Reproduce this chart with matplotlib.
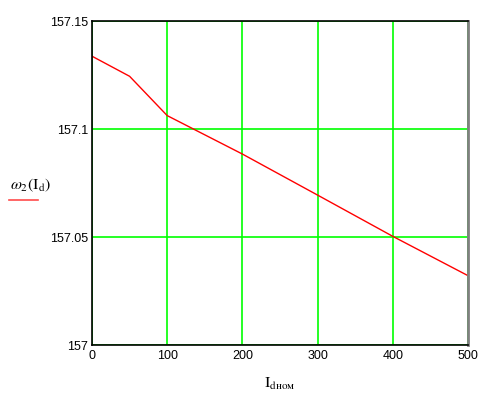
import matplotlib
matplotlib.use("Agg")
import matplotlib.pyplot as plt

# ==========================
# Data
# ==========================
i_d = [0, 50, 100, 200, 300, 400, 500]
omega2 = [157.1337, 157.1244, 157.1062, 157.0884, 157.0694, 157.0503, 157.0321]

x_ticks = [0, 100, 200, 300, 400, 500]
y_ticks = [157, 157.05, 157.1, 157.15]
y_tick_labels = ["157", "157.05", "157.1", "157.15"]

# ==========================
# Plot
# ==========================
fig = plt.figure(figsize=(4.94, 4.02), dpi=100)
ax = fig.add_axes([92 / 494, 1 - 346 / 402, 376 / 494, 324 / 402])

ax.plot(i_d, omega2, color="#ff0000", lw=1)

ax.set_xlim(0, 500)
ax.set_ylim(157, 157.15)
ax.set_xticks(x_ticks)
ax.set_yticks(y_ticks)
ax.set_yticklabels(y_tick_labels)
ax.tick_params(length=0, pad=3, labelsize=9)
for lab in ax.get_xticklabels() + ax.get_yticklabels():
    lab.set_family("Liberation Sans")

ax.grid(color="#00ff00", lw=1.2)
ax.set_axisbelow(True)

for side in ["left", "bottom", "top"]:
    ax.spines[side].set_color("black")
    ax.spines[side].set_linewidth(1.2)
ax.spines["right"].set_color("#808080")
ax.spines["right"].set_linewidth(2)

# axis labels, Mathcad style
fig.text(10 / 494, 1 - 185 / 402, r"$\omega_2(\mathrm{I_d})$", fontsize=11.5,
         va="center", ha="left", math_fontfamily="stix")
fig.add_artist(plt.Line2D([9 / 494, 38 / 494], [1 - 201 / 402, 1 - 201 / 402],
                          color="#ff0000", lw=1.2, alpha=0.7))
fig.text(280 / 494, 1 - 384 / 402, r"$\mathrm{I_{d\mathrm{ном}}}$", fontsize=11.5,
         ha="center", va="center", math_fontfamily="stix")

plt.savefig("out.png", dpi=100)
